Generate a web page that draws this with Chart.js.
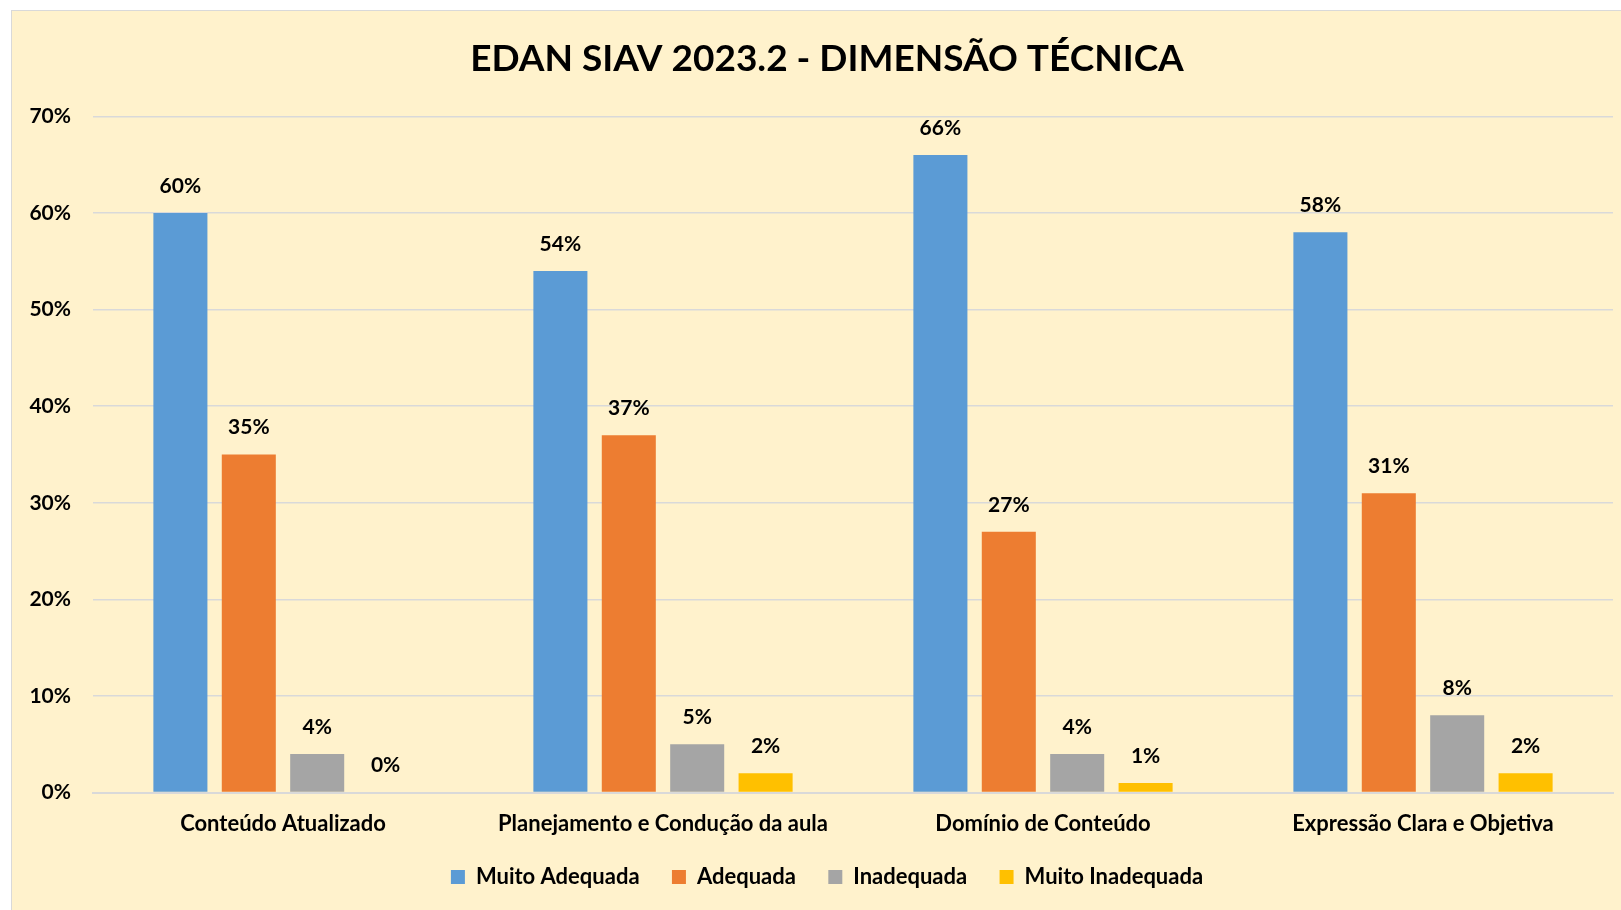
<!DOCTYPE html>
<html>
<head>
<meta charset="utf-8">
<script src="https://cdn.jsdelivr.net/npm/chart.js@4.4.1/dist/chart.umd.min.js"></script>
<style>
  html, body { margin: 0; padding: 0; background: #ffffff; overflow: hidden; }
  #frame {
    position: absolute; left: 11px; top: 10px;
    width: 1640px; height: 910px;
    background: #FFF2CC;
    border-top: 1px solid #d9d9d9; border-left: 1px solid #d9d9d9;
  }
  #chart-box { position: absolute; left: 0; top: 0; width: 1630px; height: 899px; }
</style>
</head>
<body>
<div id="frame"><div id="chart-box"><canvas id="chart-edan"></canvas></div></div>
<script>
// valores (%)
const categorias = [
  "Conteúdo Atualizado",
  "Planejamento e Condução da aula",
  "Domínio de Conteúdo",
  "Expressão Clara e Objetiva"
];
const muitoAdequada   = [60, 54, 66, 58];
const adequada        = [35, 37, 27, 31];
const inadequada      = [4, 5, 4, 8];
const muitoInadequada = [0, 2, 1, 2];
const yTicks = [0, 10, 20, 30, 40, 50, 60, 70];

const FONT = "Lato, 'Open Sans', sans-serif";

// rótulos em cima das barras
const barLabels = {
  id: "barLabels",
  afterDatasetsDraw(chart) {
    const ctx = chart.ctx;
    ctx.save();
    ctx.font = "bold 21px " + FONT;
    ctx.fillStyle = "#000";
    ctx.textAlign = "center";
    ctx.textBaseline = "middle";
    chart.data.datasets.forEach((ds, i) => {
      const meta = chart.getDatasetMeta(i);
      meta.data.forEach((bar, j) => {
        ctx.fillText(ds.data[j] + "%", bar.x, bar.y - 27);
      });
    });
    ctx.restore();
  }
};

const ctx = document.getElementById("chart-edan").getContext("2d");
new Chart(ctx, {
  type: "bar",
  data: {
    labels: categorias,
    datasets: [
      { label: "Muito Adequada",   data: muitoAdequada,   backgroundColor: "#5B9BD5" },
      { label: "Adequada",         data: adequada,        backgroundColor: "#ED7D31" },
      { label: "Inadequada",       data: inadequada,      backgroundColor: "#A5A5A5" },
      { label: "Muito Inadequada", data: muitoInadequada, backgroundColor: "#FFC000" }
    ]
  },
  options: {
    responsive: true,
    maintainAspectRatio: false,
    animation: false,
    layout: { padding: { left: 29, right: 29, top: 0, bottom: 12 } },
    datasets: { bar: { categoryPercentage: 0.72, barPercentage: 0.79 } },
    plugins: {
      title: {
        display: true,
        text: "EDAN SIAV 2023.2 - DIMENSÃO TÉCNICA",
        color: "#000",
        font: { family: FONT, size: 37, weight: "bold" },
        padding: { top: 26, bottom: 35 }
      },
      legend: {
        position: "bottom",
        labels: {
          color: "#000",
          font: { family: FONT, size: 22, weight: "bold" },
          boxWidth: 14,
          boxHeight: 14,
          padding: 11,
          // espaço extra entre os itens da legenda
          generateLabels: (chart) => {
            const items = Chart.defaults.plugins.legend.labels.generateLabels(chart);
            items.forEach((it, i) => {
              if (i < items.length - 1) it.text += "\u00A0\u00A0\u00A0\u00A0";
            });
            return items;
          }
        }
      },
      tooltip: { enabled: false }
    },
    scales: {
      x: {
        grid: { display: false, drawTicks: false },
        border: { color: "#d9d9d9", width: 2 },
        ticks: {
          color: "#000",
          font: { family: FONT, size: 22, weight: "bold" },
          padding: 18
        }
      },
      y: {
        min: 0,
        max: 70,
        afterBuildTicks: (axis) => { axis.ticks = yTicks.map(v => ({ value: v })); },
        afterFit: (axis) => {
          axis.width = 52;
          // não cortar os rótulos que passam da caixa do eixo
          axis._computeLabelArea = () => undefined;
        },
        grid: { color: "#d9d9d9", lineWidth: 1.5, drawTicks: false },
        border: { display: false },
        ticks: {
          color: "#000",
          font: { family: FONT, size: 21, weight: "bold" },
          padding: 22,
          callback: (v) => v + "%"
        }
      }
    }
  },
  plugins: [barLabels]
});
</script>
</body>
</html>
